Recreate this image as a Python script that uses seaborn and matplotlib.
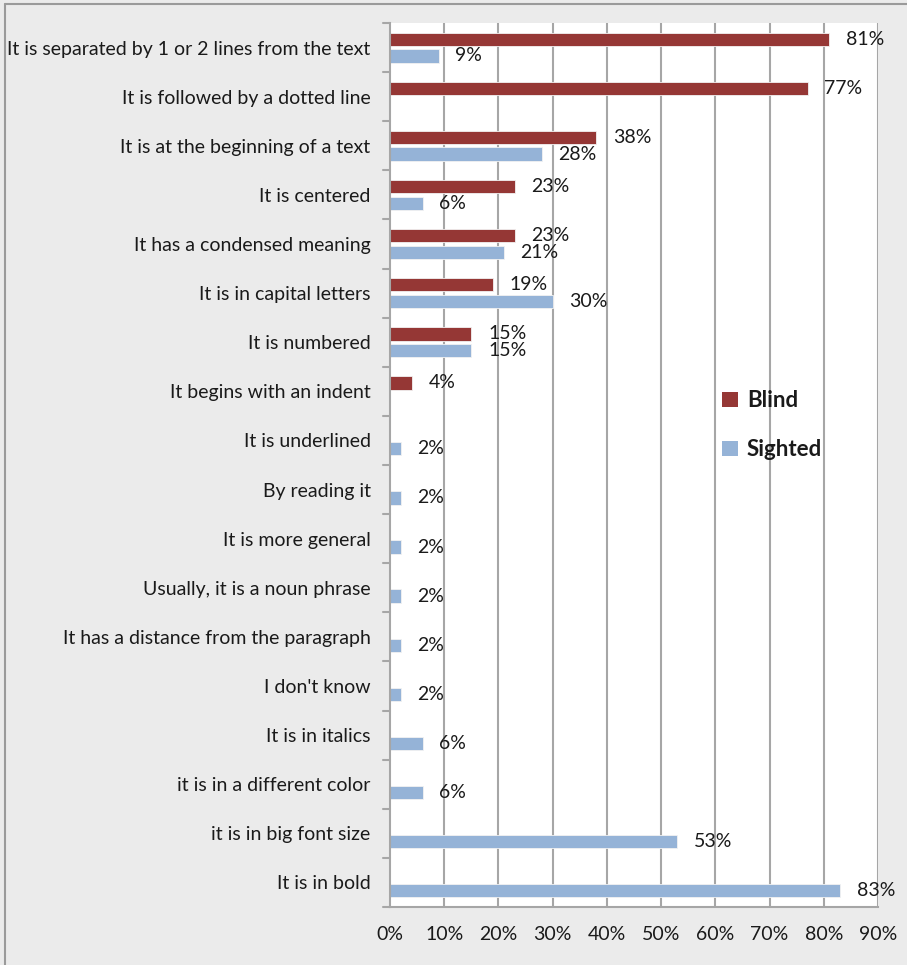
import matplotlib
matplotlib.use("Agg")
import matplotlib.pyplot as plt
import matplotlib.patches as mpatches
import matplotlib.lines as mlines
import pandas as pd
import seaborn as sns

categories = [
    "It is separated by 1 or 2 lines from the text",
    "It is followed by a dotted line",
    "It is at the beginning of a text",
    "It is centered",
    "It has a condensed meaning",
    "It is in capital letters",
    "It is numbered",
    "It begins with an indent",
    "It is underlined",
    "By reading it",
    "It is more general",
    "Usually, it is a noun phrase",
    "It has a distance from the paragraph",
    "I don't know",
    "It is in italics",
    "it is in a different color",
    "it is in big font size",
    "It is in bold",
]
blind = [81, 77, 38, 23, 23, 19, 15, 4, None, None, None, None, None, None, None, None, None, None]
sighted = [9, None, 28, 6, 21, 30, 15, None, 2, 2, 2, 2, 2, 2, 6, 6, 53, 83]
groups = ["Blind", "Sighted"]
x_ticks = [0, 10, 20, 30, 40, 50, 60, 70, 80, 90]

rows = []
for cat, b, s in zip(categories, blind, sighted):
    if b is not None:
        rows.append((cat, groups[0], b))
    if s is not None:
        rows.append((cat, groups[1], s))
df = pd.DataFrame(rows, columns=["answer", "group", "percent"])

sns.set_style("white")
plt.rcParams["font.family"] = ["Lato", "DejaVu Sans"]

bg = "#ebebeb"
grid_c = "#a6a6a6"
txt_c = "#1a1a1a"
fs = 14
palette = {"Blind": "#953735", "Sighted": "#95b3d7"}

fig = plt.figure(figsize=(9.07, 9.65), dpi=100, facecolor=bg)
ax = fig.add_axes([390 / 907, 1 - 907 / 965, (878 - 390) / 907, (907 - 23) / 965])
ax.set_facecolor("white")

sns.barplot(
    data=df, y="answer", x="percent", hue="group",
    order=categories, hue_order=groups, palette=palette,
    orient="h", width=0.68, gap=0.2, dodge=True,
    edgecolor="#f2f2f2", linewidth=0.6, saturation=1,
    errorbar=None, legend=False, ax=ax, zorder=3,
)

for cont in ax.containers:
    ax.bar_label(cont, fmt="{:.0f}%", padding=12, fontsize=fs, color=txt_c)

ax.set_xlim(0, 90)
ax.set_ylim(len(categories) - 0.5, -0.5)
ax.set_xticks(x_ticks)
ax.set_xticklabels([f"{v}%" for v in x_ticks], fontsize=fs, color=txt_c)
ax.set_yticks([i for i in range(len(categories))])
ax.set_yticklabels(categories, fontsize=fs, color=txt_c)
ax.set_xlabel("")
ax.set_ylabel("")

# vertical gridlines at every 10 %
for v in x_ticks[1:]:
    ax.axvline(v, color=grid_c, lw=1.5, zorder=1)

for side in ["top", "right"]:
    ax.spines[side].set_visible(False)
for side in ["left", "bottom"]:
    ax.spines[side].set_color(grid_c)
    ax.spines[side].set_linewidth(1.5)
    ax.spines[side].set_zorder(4)

# y ticks sit on category boundaries, x ticks point down
ax.tick_params(axis="y", length=0, pad=14)
ax.tick_params(axis="x", length=5, width=1.5, color=grid_c, direction="out", pad=9)
for b in [i + 0.5 for i in range(-1, len(categories))]:
    ax.plot([-1.3, 0], [b, b], color=grid_c, lw=1.5, clip_on=False, zorder=4)

handles = [mpatches.Patch(facecolor=palette[g], edgecolor="none") for g in groups]
leg = ax.legend(
    handles, groups, loc="upper left", bbox_to_anchor=(0.64, 0.607),
    frameon=False, prop={"weight": "bold", "size": 16},
    handlelength=0.7, handleheight=0.7, handletextpad=0.4, labelspacing=1.25,
)
for t in leg.get_texts():
    t.set_color(txt_c)

# outer chart border (left and top edges)
fig.add_artist(mlines.Line2D([5 / 907, 5 / 907], [0, 1 - 4 / 965], color="#9a9a9a", lw=1.5,
                             transform=fig.transFigure))
fig.add_artist(mlines.Line2D([5 / 907, 1], [1 - 4 / 965, 1 - 4 / 965], color="#9a9a9a", lw=1.5,
                             transform=fig.transFigure))

fig.savefig("out.png", dpi=100, facecolor=bg)
